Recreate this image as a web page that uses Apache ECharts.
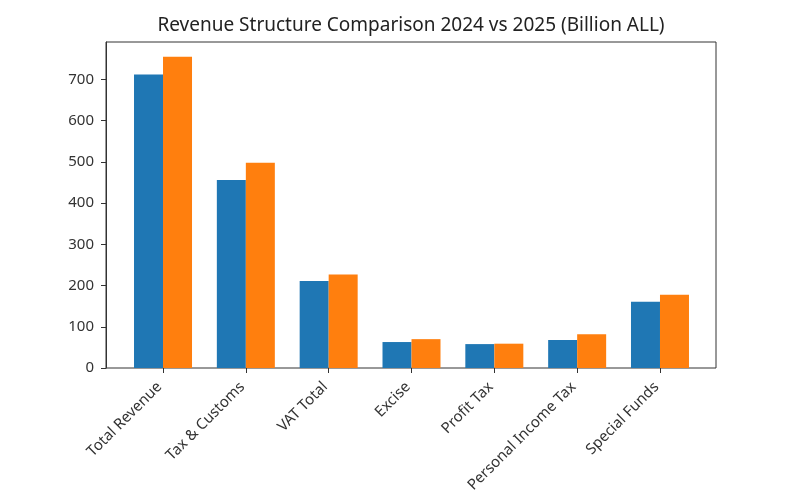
<!DOCTYPE html>
<html>
<head>
<meta charset="utf-8">
<script src="https://cdn.jsdelivr.net/npm/echarts@6/dist/echarts.min.js"></script>
<style>
  html, body { margin: 0; padding: 0; background: #fff; }
  #chart { width: 794px; height: 500px; }
</style>
</head>
<body>
<div id="chart"></div>
<script>
var categories = ['Total Revenue', 'Tax & Customs', 'VAT Total', 'Excise', 'Profit Tax', 'Personal Income Tax', 'Special Funds'];
var values2024 = [712, 456, 211, 63, 58, 68, 161];
var values2025 = [755, 498, 227, 70, 59, 82, 178];
var yTicks = [0, 100, 200, 300, 400, 500, 600, 700];

var fontFam = 'Noto Sans';
var yMax = 791;

var chart = echarts.init(document.getElementById('chart'));

var option = {
  animation: false,
  backgroundColor: '#fff',
  title: {
    text: 'Revenue Structure Comparison 2024 vs 2025 (Billion ALL)',
    left: 406, top: 11, textAlign: 'center',
    textStyle: { fontFamily: fontFam, fontSize: 19, fontWeight: 'normal', color: '#222' }
  },
  grid: [
    // frame grid with y axis
    { left: 106, right: 78, top: 42, bottom: 132, show: true, borderColor: '#333', borderWidth: 1, backgroundColor: 'transparent' },
    // bar grid, category bands
    { left: 121.6, right: 92.6, top: 42, bottom: 132 }
  ],
  xAxis: [
    { gridIndex: 0, type: 'value', show: false, min: 0, max: 1 },
    {
      gridIndex: 1, type: 'category', data: categories,
      axisLine: { show: false },
      axisTick: { show: true, alignWithLabel: true, length: 5, lineStyle: { color: '#333' } },
      axisLabel: { rotate: 45, interval: 0, margin: 13, padding: [0, 5, 0, 0], fontFamily: fontFam, fontSize: 15, color: '#333' }
    }
  ],
  yAxis: [
    {
      gridIndex: 0, type: 'value', min: 0, max: yMax, interval: 100,
      axisLine: { show: true, lineStyle: { color: '#333' } },
      axisTick: { show: true, length: 5, customValues: yTicks, lineStyle: { color: '#333' } },
      axisLabel: {
        fontFamily: fontFam, fontSize: 15, color: '#333', margin: 12, customValues: yTicks,
        formatter: function (v) { return yTicks.indexOf(v) >= 0 ? String(v) : ''; }
      },
      splitLine: { show: false }
    },
    { gridIndex: 1, type: 'value', min: 0, max: yMax, show: false }
  ],
  series: [
    { name: '2024', type: 'bar', xAxisIndex: 1, yAxisIndex: 1, data: values2024, barWidth: 29, barGap: '0%', itemStyle: { color: '#1f77b4' } },
    { name: '2025', type: 'bar', xAxisIndex: 1, yAxisIndex: 1, data: values2025, barWidth: 29, barGap: '0%', itemStyle: { color: '#ff7f0e' } }
  ]
};

chart.setOption(option);
</script>
</body>
</html>
